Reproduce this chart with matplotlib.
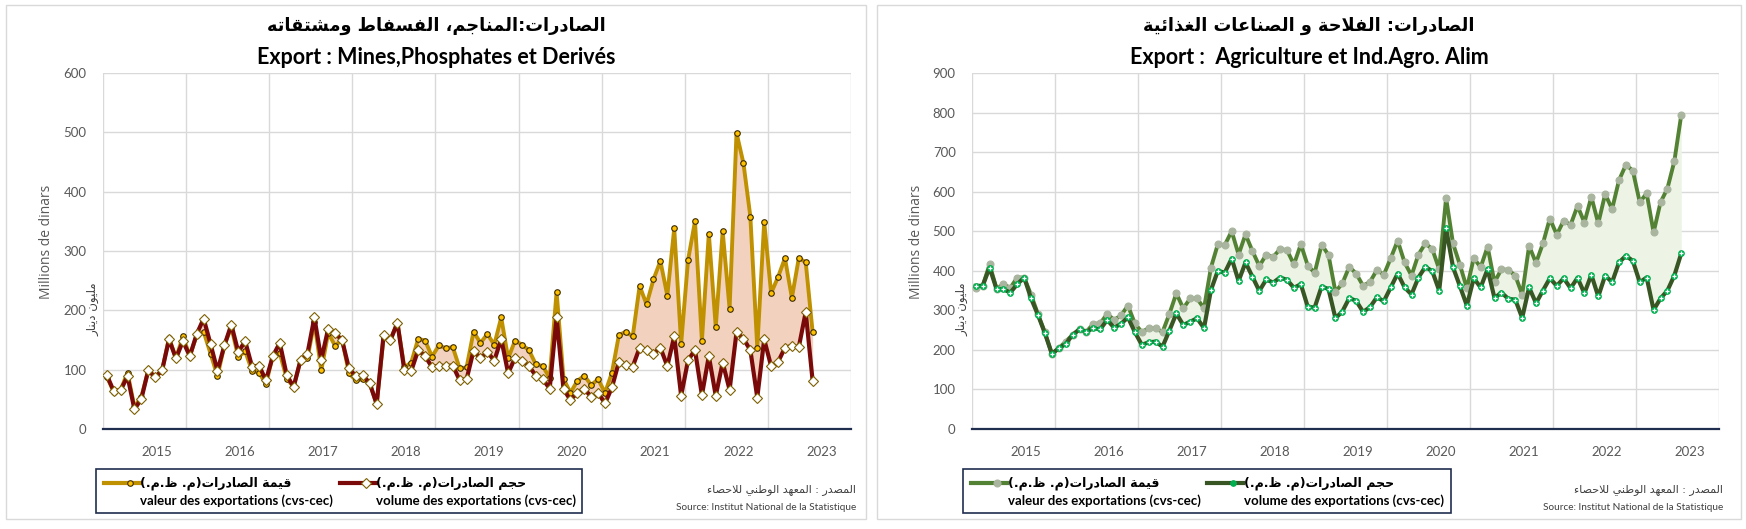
import matplotlib
matplotlib.use('Agg')
import matplotlib.pyplot as plt
from matplotlib import font_manager
from matplotlib.lines import Line2D
from matplotlib.patches import Rectangle

W, H = 1746, 529

years = ['2015', '2016', '2017', '2018', '2019', '2020', '2021', '2022', '2023']

# Export : Mines, Phosphates et Derives (millions de dinars), juin 2014 - dec 2022
mines_valeur = [88, 63, 66, 95, 37, 54, 99, 88, 99, 154, 119, 156,
                123, 158, 164, 127, 89, 141, 172, 121, 131, 98, 95, 76,
                123, 128, 85, 71, 116, 119, 180, 99, 162, 140, 151, 94,
                82, 84, 77, 42, 155, 151, 179, 104, 112, 152, 149, 122,
                141, 136, 138, 102, 104, 164, 145, 160, 142, 188, 119, 149,
                142, 133, 109, 106, 86, 231, 85, 61, 81, 90, 74, 84,
                61, 95, 158, 164, 156, 241, 210, 252, 283, 225, 338, 144,
                285, 350, 149, 329, 172, 333, 203, 499, 448, 358, 137, 349,
                229, 256, 288, 221, 288, 281, 163]
mines_volume = [91, 64, 65, 89, 33, 51, 99, 87, 99, 151, 119, 148,
                123, 160, 186, 143, 98, 141, 176, 130, 148, 105, 107, 82,
                123, 145, 91, 71, 116, 127, 188, 117, 169, 161, 150, 102,
                89, 91, 77, 42, 158, 150, 179, 99, 98, 133, 123, 104,
                107, 106, 107, 82, 84, 132, 119, 130, 115, 152, 94, 120,
                115, 106, 90, 84, 68, 188, 67, 49, 61, 68, 54, 61,
                43, 70, 113, 108, 105, 137, 133, 127, 137, 106, 156, 56,
                116, 133, 57, 123, 56, 112, 66, 163, 152, 133, 53, 151,
                106, 113, 137, 140, 138, 197, 81]

# Export : Agriculture et Ind. Agro. Alim (millions de dinars)
agri_valeur = [357, 362, 416, 355, 366, 357, 383, 383, 339, 290, 244, 190,
               204, 221, 238, 252, 246, 266, 267, 291, 276, 287, 312, 267,
               245, 255, 255, 245, 291, 343, 305, 330, 330, 305, 408, 467,
               465, 500, 441, 492, 450, 412, 441, 435, 455, 452, 416, 467,
               413, 395, 466, 440, 347, 368, 410, 393, 362, 372, 402, 390,
               432, 476, 421, 388, 441, 469, 455, 404, 584, 469, 415, 356,
               432, 409, 461, 371, 404, 402, 388, 340, 463, 420, 469, 532,
               491, 527, 516, 564, 522, 587, 520, 594, 556, 629, 668, 653,
               573, 596, 497, 573, 608, 677, 794]
agri_volume = [362, 362, 408, 354, 353, 345, 366, 383, 330, 288, 242, 190,
               204, 215, 238, 252, 246, 255, 252, 276, 256, 266, 282, 245,
               213, 219, 221, 208, 249, 292, 263, 271, 280, 255, 351, 400,
               395, 431, 374, 421, 385, 349, 378, 370, 383, 377, 357, 366,
               309, 307, 360, 354, 280, 297, 331, 324, 296, 308, 333, 323,
               358, 393, 358, 340, 383, 410, 399, 350, 507, 409, 361, 312,
               381, 358, 404, 331, 345, 329, 327, 281, 358, 318, 350, 381,
               362, 381, 356, 382, 343, 390, 335, 388, 371, 421, 438, 425,
               371, 383, 301, 330, 350, 388, 444]


# minimal arabic shaping (presentation forms + visual order)
DUAL = {'\u0626': 0xFE89, '\u0628': 0xFE8F, '\u062A': 0xFE95, '\u062B': 0xFE99,
        '\u062C': 0xFE9D, '\u062D': 0xFEA1, '\u062E': 0xFEA5, '\u0633': 0xFEB1,
        '\u0634': 0xFEB5, '\u0635': 0xFEB9, '\u0636': 0xFEBD, '\u0637': 0xFEC1,
        '\u0638': 0xFEC5, '\u0639': 0xFEC9, '\u063A': 0xFECD, '\u0641': 0xFED1,
        '\u0642': 0xFED5, '\u0643': 0xFED9, '\u0644': 0xFEDD, '\u0645': 0xFEE1,
        '\u0646': 0xFEE5, '\u0647': 0xFEE9, '\u064A': 0xFEF1}
RIGHT = {'\u0622': 0xFE81, '\u0623': 0xFE83, '\u0625': 0xFE87, '\u0627': 0xFE8D,
         '\u0629': 0xFE93, '\u062F': 0xFEA9, '\u0630': 0xFEAB, '\u0631': 0xFEAD,
         '\u0632': 0xFEAF, '\u0648': 0xFEED, '\u0649': 0xFEEF}
LAM_ALEF = {'\u0622': 0xFEF5, '\u0623': 0xFEF7, '\u0625': 0xFEF9, '\u0627': 0xFEFB}
MIRROR = {'(': ')', ')': '('}


def shape_arabic(text):
    tokens = []
    i = 0
    while i < len(text):
        ch = text[i]
        if ch == '\u0644' and i + 1 < len(text) and text[i + 1] in LAM_ALEF:
            tokens.append(('LA', LAM_ALEF[text[i + 1]]))
            i += 2
            continue
        if ch in DUAL:
            tokens.append(('D', DUAL[ch]))
        elif ch in RIGHT:
            tokens.append(('R', RIGHT[ch]))
        else:
            tokens.append(('N', ch))
        i += 1

    out = []
    for k, (kind, val) in enumerate(tokens):
        if kind == 'N':
            out.append(MIRROR.get(val, val))
            continue
        prev_joins = k > 0 and tokens[k - 1][0] == 'D'
        next_joins = kind == 'D' and k + 1 < len(tokens) and tokens[k + 1][0] in ('D', 'R', 'LA')
        if kind == 'D':
            if prev_joins and next_joins:
                code = val + 3
            elif prev_joins:
                code = val + 1
            elif next_joins:
                code = val + 2
            else:
                code = val
        else:
            code = val + 1 if prev_joins else val
        out.append(chr(code))
    return ''.join(reversed(out))


names = {f.name for f in font_manager.fontManager.ttflist}
NARROW = 'Liberation Sans Narrow' if 'Liberation Sans Narrow' in names else 'Lato'
LATIN = 'Lato'
ARABIC = 'DejaVu Sans'


def fx(x):
    return x / W


def fy(y):
    return 1 - y / H


fig = plt.figure(figsize=(W / 100, H / 100), dpi=100)
fig.patch.set_facecolor('white')

panels = [
    {
        'left': 0, 'plot_x': (103.3, 850.7), 'box': (6, 866), 'src_right': 856,
        'valeur': mines_valeur, 'volume': mines_volume, 'ymax': 600,
        'title_ar': 'الصادرات:المناجم، الفسفاط ومشتقاته',
        'title_fr': 'Export : Mines,Phosphates et Derivés',
        'val_line': '#BF9000', 'val_face': '#FFC000', 'val_edge': '#3B2A00', 'val_marker': 'o', 'val_ms': 4.0,
        'vol_line': '#7A0A0A', 'vol_face': 'white', 'vol_edge': '#7F6000', 'vol_marker': 'D', 'vol_ms': 4.6,
        'fill': '#F3D1BF', 'legend_box': (95.5, 582),
    },
    {
        'left': 869, 'plot_x': (972.3, 1719.3), 'box': (877, 1741), 'src_right': 1723,
        'valeur': agri_valeur, 'volume': agri_volume, 'ymax': 900,
        'title_ar': 'الصادرات: الفلاحة و الصناعات الغذائية',
        'title_fr': 'Export :  Agriculture et Ind.Agro. Alim',
        'val_line': '#548235', 'val_face': '#A9B59E', 'val_edge': '#A9B59E', 'val_marker': 'o', 'val_ms': 5.0,
        'vol_line': '#375623', 'vol_face': '#00B050', 'vol_edge': '#00B050', 'vol_marker': 'o', 'vol_ms': 4.0,
        'fill': '#EDF4E6', 'legend_box': (963, 1451),
    },
]

plot_top, plot_bottom = 73, 429

for p in panels:
    # panel frame
    bx0, bx1 = p['box']
    fig.patches.append(Rectangle((fx(bx0), fy(519)), fx(bx1 - bx0), (519 - 5) / H,
                                 transform=fig.transFigure, fill=False,
                                 edgecolor='#D9D9D9', linewidth=1.0))

    x0, x1 = p['plot_x']
    ax = fig.add_axes([fx(x0), fy(plot_bottom), fx(x1 - x0), (plot_bottom - plot_top) / H])
    valeur, volume = p['valeur'], p['volume']
    xs = list(range(len(valeur)))

    ax.fill_between(xs, volume, valeur, color=p['fill'], linewidth=0, zorder=1)
    ax.plot(xs, valeur, color=p['val_line'], linewidth=2.8, zorder=3,
            marker=p['val_marker'], markersize=p['val_ms'],
            markerfacecolor=p['val_face'], markeredgecolor=p['val_edge'], markeredgewidth=0.8)
    ax.plot(xs, volume, color=p['vol_line'], linewidth=3.0, zorder=4,
            marker=p['vol_marker'], markersize=p['vol_ms'],
            markerfacecolor=p['vol_face'], markeredgecolor=p['vol_edge'], markeredgewidth=0.8)
    if p['left'] > 0:
        ax.plot(xs, volume, linestyle='none', marker='+', markersize=2.6,
                markeredgecolor='white', markeredgewidth=0.9, zorder=5)

    ax.set_xlim(-0.5, 107.5)
    ax.set_ylim(0, p['ymax'])
    ax.set_yticks(range(0, p['ymax'] + 1, 100))
    ax.set_xticks([7.25 + 12 * k for k in range(len(years))], labels=years)
    ax.set_xticks([-0.5 + 12 * k for k in range(10)], minor=True)
    ax.grid(axis='y', which='major', color='#D9D9D9', linewidth=1.0, zorder=0)
    ax.grid(axis='x', which='minor', color='#D9D9D9', linewidth=1.0, zorder=0)
    ax.set_axisbelow(True)
    ax.tick_params(which='both', length=0)
    ax.tick_params(axis='y', pad=12, labelsize=9.5, labelcolor='#595959')
    ax.tick_params(axis='x', pad=12, labelsize=9.5, labelcolor='#595959')
    for lab in ax.get_xticklabels() + ax.get_yticklabels():
        lab.set_family(LATIN)
    for side in ('top', 'right', 'left'):
        ax.spines[side].set_visible(False)
    ax.spines['bottom'].set_color('#1F2D4F')
    ax.spines['bottom'].set_linewidth(1.6)
    ax.set_facecolor('white')

    off = p['left']
    cx = (bx0 + bx1) / 2
    fig.text(fx(cx), fy(26), shape_arabic(p['title_ar']), ha='center', va='center',
             family=ARABIC, weight='bold', fontsize=12.8, color='black')
    fig.text(fx(cx), fy(57), p['title_fr'], ha='center', va='center',
             family=LATIN, weight='bold', fontsize=15.5, color='black')

    fig.text(fx(off + 47), fy(242), 'Millions de dinars', rotation=90, ha='center', va='center',
             family='Open Sans', fontsize=10, color='#595959')
    fig.text(fx(off + 93), fy(309), shape_arabic('مليون دينار'), rotation=90, ha='center', va='center',
             family=ARABIC, fontsize=8.5, color='#404040')

    # legend
    lb0, lb1 = p['legend_box']
    fig.patches.append(Rectangle((fx(lb0), fy(513)), fx(lb1 - lb0), (513 - 469) / H,
                                 transform=fig.transFigure, fill=False,
                                 edgecolor='#1F2D4F', linewidth=1.2))
    entries = [
        (lb0 + 8, 'قيمة الصادرات(م. ظ.م.)', 'valeur des exportations (cvs-cec)',
         p['val_line'], p['val_marker'], p['val_face'], p['val_edge'], p['val_ms']),
        (lb0 + 244, 'حجم الصادرات(م. ظ.م.)', 'volume des exportations (cvs-cec)',
         p['vol_line'], p['vol_marker'], p['vol_face'], p['vol_edge'], p['vol_ms']),
    ]
    for sx, lab_ar, lab_fr, lc, mk, mf, me, ms in entries:
        fig.add_artist(Line2D([fx(sx), fx(sx + 36)], [fy(483), fy(483)], transform=fig.transFigure,
                              color=lc, linewidth=3.0))
        fig.add_artist(Line2D([fx(sx + 26)], [fy(483)], transform=fig.transFigure, linestyle='none',
                              marker=mk, markersize=ms, markerfacecolor=mf, markeredgecolor=me,
                              markeredgewidth=0.8))
        fig.text(fx(sx + 37), fy(483), shape_arabic(lab_ar), ha='left', va='center',
                 family=ARABIC, weight='bold', fontsize=9, color='black')
        fig.text(fx(sx + 37), fy(501), lab_fr, ha='left', va='center',
                 family=LATIN, weight='bold', fontsize=9.5, color='black')

    rx = p['src_right']
    fig.text(fx(rx), fy(490), shape_arabic('المصدر : المعهد الوطني للاحصاء'), ha='right', va='center',
             family=ARABIC, fontsize=8, color='#404040')
    fig.text(fx(rx), fy(507), 'Source: Institut National de la Statistique', ha='right', va='center',
             family=NARROW, fontsize=7.2, color='#404040')

fig.savefig('out.png', dpi=100, facecolor='white')
